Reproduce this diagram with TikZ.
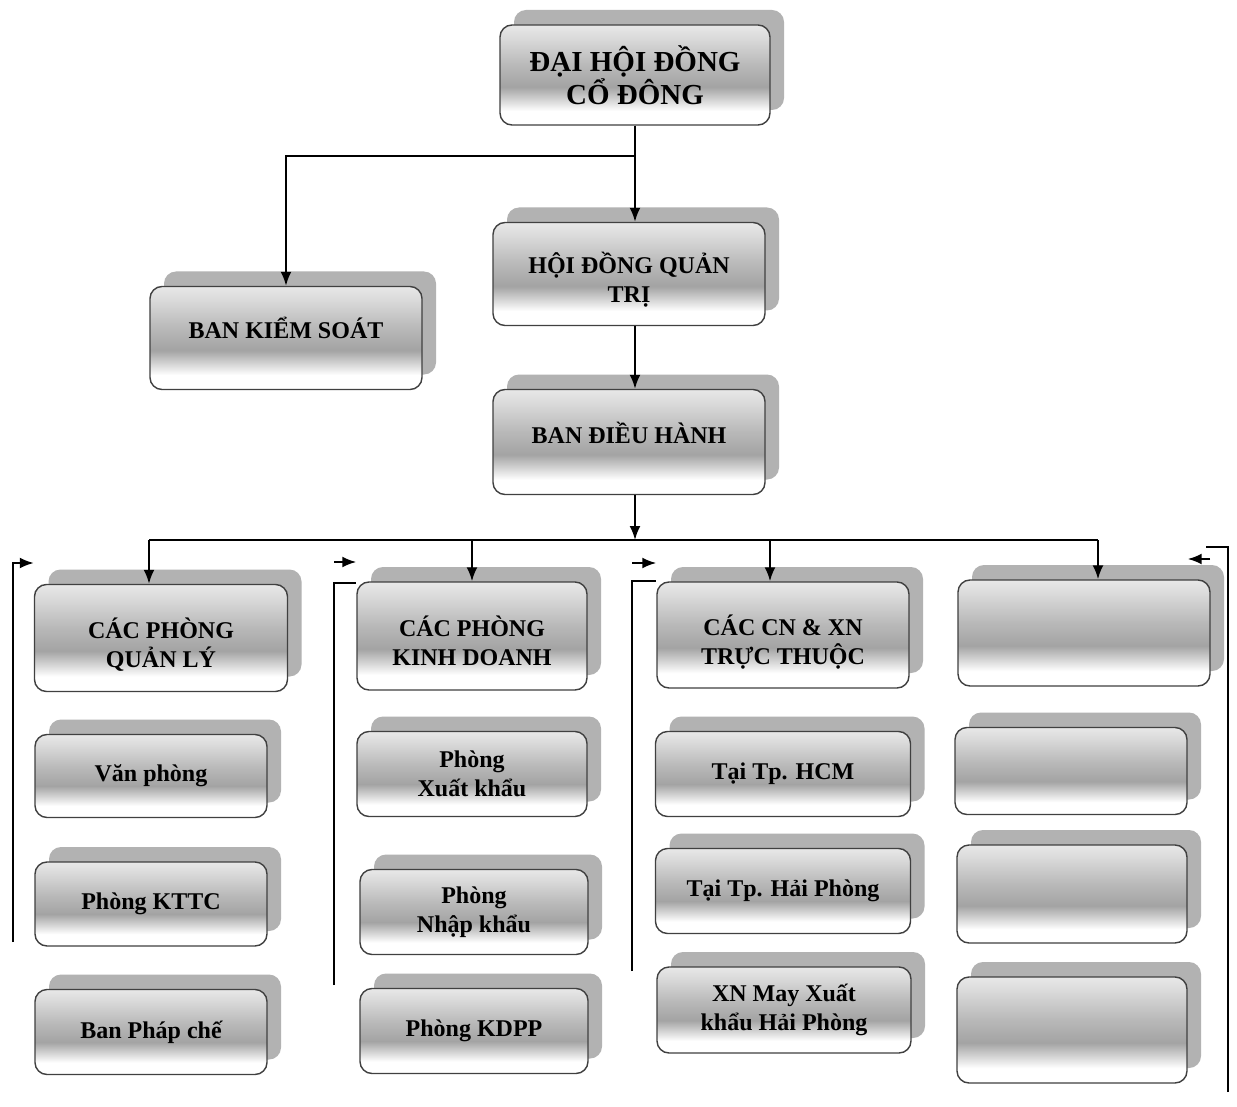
\documentclass[tikz,border=0pt]{standalone}
\usepackage{fontspec}
\setmainfont{Liberation Serif}
\usetikzlibrary{arrows.meta,shadows}
\pgfdeclareverticalshading{boxshade}{100bp}{color(0bp)=(white); color(25bp)=(white);
  color(32bp)=(white); color(44bp)=(gray!72); color(55bp)=(gray!55);
  color(68bp)=(gray!30); color(75bp)=(gray!18); color(100bp)=(gray!18)}
\newcommand{\dn}[1]{\rule{0pt}{#1}}
\tikzset{
  orgbox/.style={draw=black!75, line width=1.4pt, rounded corners=12pt, inner sep=0pt,
    shade, shading=boxshade, align=center, font=\bfseries\fontsize{24pt}{29pt}\selectfont,
    copy shadow={shadow xshift=14pt, shadow yshift=15pt, fill=gray!60, draw=none}},
  wh/.style 2 args={minimum width=#1pt, minimum height=#2pt},
  hightext/.style={text depth=#1},
  link/.style={line width=2.1pt},
  arr/.style={link, -{Latex[length=14pt,width=11pt]}}
}

\begin{document}
\begin{tikzpicture}[x=1pt,y=-1pt]
  \fill[white] (0,0) rectangle (1237,1107);
  \useasboundingbox (0,0) rectangle (1237,1107);

  \node[orgbox,wh={270}{100},font=\bfseries\fontsize{29pt}{33pt}\selectfont] (dhdcd) at (635,75) {ĐẠI HỘI ĐỒNG\\CỔ ĐÔNG};
  \node[orgbox,wh={272}{103}] (hdqt) at (629,274) {\dn{33pt}HỘI ĐỒNG QUẢN\\TRỊ};
  \node[orgbox,wh={272}{103},hightext=20pt] (bks) at (286,338) {BAN KIỂM SOÁT};
  \node[orgbox,wh={272}{105},hightext=18pt] (bdh) at (629,442) {BAN ĐIỀU HÀNH};

  \node[orgbox,wh={253}{107}] (cpql) at (161,638) {\dn{34pt}CÁC PHÒNG\\QUẢN LÝ};
  \node[orgbox,wh={230}{108}] (cpkd) at (472,636) {\dn{30pt}CÁC PHÒNG\\KINH DOANH};
  \node[orgbox,wh={252}{106}] (ccn) at (783,635) {\dn{34pt}CÁC CN \& XN\\TRỰC THUỘC};
  \node[orgbox,wh={252}{106}] (cthem) at (1084,633) {};

  \node[orgbox,wh={232}{83}] (vp) at (151,776) {Văn phòng};
  \node[orgbox,wh={232}{84}] (kttc) at (151,904) {Phòng KTTC};
  \node[orgbox,wh={232}{85}] (phapche) at (151,1032) {Ban Pháp chế};

  \node[orgbox,wh={230}{85}] (xk) at (472,774) {Phòng\\Xuất khẩu};
  \node[orgbox,wh={228}{85}] (nk) at (474,912) {Phòng\\Nhập khẩu};
  \node[orgbox,wh={228}{85}] (kdpp) at (474,1031) {Phòng KDPP};

  \node[orgbox,wh={255}{85}] (hcm) at (783,774) {Tại Tp. HCM};
  \node[orgbox,wh={255}{85}] (haiphong) at (783,891) {Tại Tp. Hải Phòng};
  \node[orgbox,wh={254}{86}] (xnmay) at (784,1010) {XN May Xuất\\khẩu Hải Phòng};

  \node[orgbox,wh={232}{87}] (trong1) at (1071,771) {};
  \node[orgbox,wh={230}{98}] (trong2) at (1072,894) {};
  \node[orgbox,wh={230}{106}] (trong3) at (1072,1030) {};

  \coordinate (bus) at (635,540);
  \draw[arr] (dhdcd.south) -- (dhdcd.south |- hdqt.north);
  \draw[arr] (dhdcd.south) -- ++(0,30) -| (bks.north);
  \draw[arr] ([xshift=6pt]hdqt.south) -- ([xshift=6pt]bdh.north);
  \draw[arr] ([xshift=6pt]bdh.south) -- (bus);
  \draw[link] ([xshift=-12pt]cpql.north |- bus) -- ([xshift=14pt]cthem.north |- bus);
  \foreach \n/\dx in {cpql/-12,cpkd/0,ccn/-13,cthem/14}
    \draw[arr] ([xshift=\dx pt]\n.north |- bus) -- ([xshift=\dx pt]\n.north);

  \coordinate (q1) at (13,563);
  \coordinate (q1end) at (13,942);
  \draw[arr] (q1end) |- (q1 -| cpql.west);

  \coordinate (k2) at (334,562);
  \coordinate (k2top) at (334,583);
  \coordinate (k2end) at (334,985);
  \draw[arr] (k2) -- (k2 -| cpkd.west);
  \draw[link] (k2end) |- (k2top -| cpkd.west);

  \coordinate (c3) at (632,563);
  \coordinate (c3top) at (632,581);
  \coordinate (c3end) at (632,971);
  \draw[arr] (c3) -- (c3 -| ccn.west);
  \draw[link] (c3end) |- (c3top -| ccn.west);

  \coordinate (t4) at (1210,559);
  \coordinate (t4top) at (1228,547);
  \coordinate (t4end) at (1228,1092);
  \draw[arr] (t4) -- (t4 -| trong1.east);
  \draw[link] (t4end) -- (t4top) -- ++(-22,0);
\end{tikzpicture}
\end{document}
